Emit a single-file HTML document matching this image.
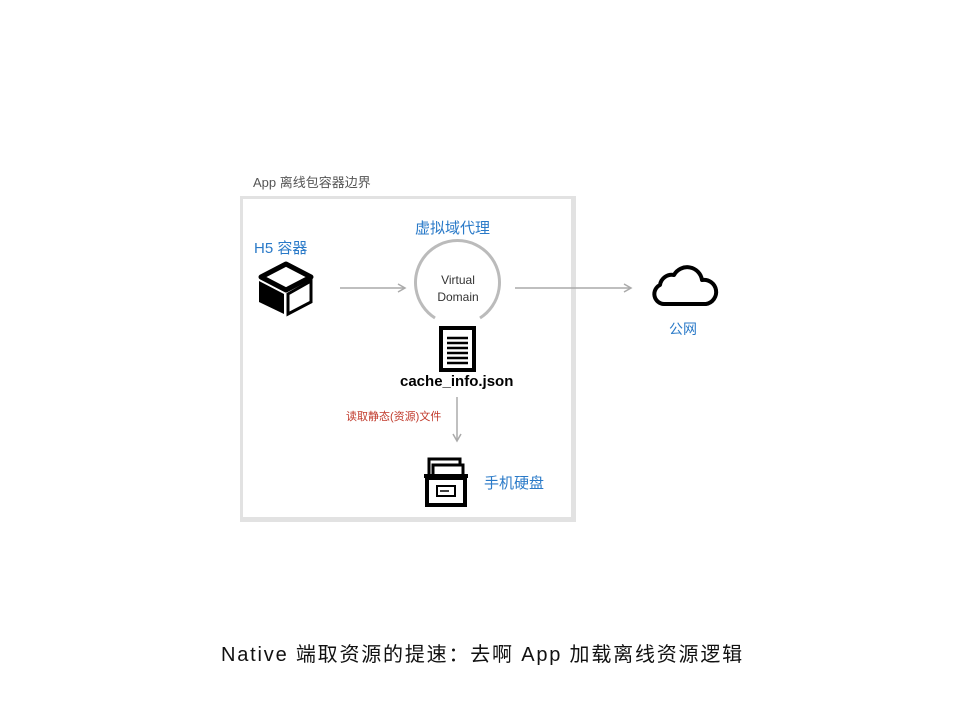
<!DOCTYPE html>
<html><head><meta charset="utf-8"><style>
body{margin:0;width:959px;height:720px;background:#fff;position:relative;overflow:hidden;font-family:"Liberation Sans","Noto Sans CJK SC",sans-serif}
.t{position:absolute;white-space:nowrap}
</style></head><body>
<div class="t" style="left:253px;top:172px;font-size:13px;color:#555">App 离线包容器边界</div>
<div style="position:absolute;left:240px;top:196px;width:328px;height:318px;border:3px solid #e2e2e2;border-right-width:5px;border-bottom-width:5px"></div>
<div class="t" style="left:415px;top:217px;font-size:15px;color:#2a7ac8">虚拟域代理</div>
<div class="t" style="left:254px;top:237px;font-size:15px;color:#2a7ac8">H5 容器</div>
<svg width="959" height="720" style="position:absolute;left:0;top:0">
<polygon points="286,264 311,277 286,290 261,277" fill="#fff" stroke="#000" stroke-width="5" stroke-linejoin="round"/>
<polygon points="259,281 284,294 284,314 259,302" fill="#000"/>
<polygon points="288,294 311,281 311,302 288,314" fill="#fff" stroke="#000" stroke-width="3"/>
<line x1="340" y1="288" x2="404" y2="288" stroke="#aaa" stroke-width="1.5"/>
<polyline points="398,284 405,288 398,292" fill="none" stroke="#aaa" stroke-width="1.5"/>
<line x1="515" y1="288" x2="630" y2="288" stroke="#aaa" stroke-width="1.5"/>
<polyline points="624,284 631,288 624,292" fill="none" stroke="#aaa" stroke-width="1.5"/>
<line x1="457" y1="397" x2="457" y2="440" stroke="#aaa" stroke-width="1.5"/>
<polyline points="453,434 457,441 461,434" fill="none" stroke="#aaa" stroke-width="1.5"/>
<path d="M435,318 A42,42 0 1 1 480,318" fill="none" stroke="#bbb" stroke-width="3"/>
<rect x="441" y="328" width="33" height="42" fill="#fff" stroke="#000" stroke-width="4"/>
<g stroke="#000" stroke-width="2.5"><line x1="447" y1="338" x2="468" y2="338"/><line x1="447" y1="343" x2="468" y2="343"/><line x1="447" y1="348" x2="468" y2="348"/><line x1="447" y1="353" x2="468" y2="353"/><line x1="447" y1="358" x2="468" y2="358"/><line x1="447" y1="363" x2="468" y2="363"/></g>
<rect x="429" y="459" width="31" height="20" fill="#fff" stroke="#000" stroke-width="3"/>
<rect x="433" y="465" width="30" height="20" fill="#fff" stroke="#000" stroke-width="3"/>
<rect x="424" y="474" width="44" height="4" fill="#000"/>
<rect x="427" y="478" width="38" height="27" fill="#fff" stroke="#000" stroke-width="4"/>
<rect x="437" y="486" width="18" height="10" fill="#fff" stroke="#000" stroke-width="2"/>
<line x1="440" y1="491" x2="449" y2="491" stroke="#000" stroke-width="1.5"/>
<path d="M664,304 A10,10 0 0 1 660,285 A12,12 0 0 1 674,275 A15,15 0 0 1 702,280 A12,12 0 0 1 706,304 Z" fill="#fff" stroke="#000" stroke-width="4" stroke-linejoin="round"/>
</svg>
<div class="t" style="left:436px;top:272px;font-size:12px;color:#333;text-align:center;width:44px;line-height:17px">Virtual<br>Domain</div>
<div class="t" style="left:400px;top:373px;font-size:15px;font-weight:bold;color:#000">cache_info.json</div>
<div class="t" style="left:346px;top:408px;font-size:11px;color:#c0392b">读取静态(资源)文件</div>
<div class="t" style="left:484px;top:472px;font-size:15px;color:#2a7ac8">手机硬盘</div>
<div class="t" style="left:669px;top:319px;font-size:14px;color:#2a7ac8">公网</div>
<div class="t" style="left:221px;top:638px;font-size:20px;color:#111;letter-spacing:1.8px">Native 端取资源的提速：去啊 App 加载离线资源逻辑</div>
</body></html>
